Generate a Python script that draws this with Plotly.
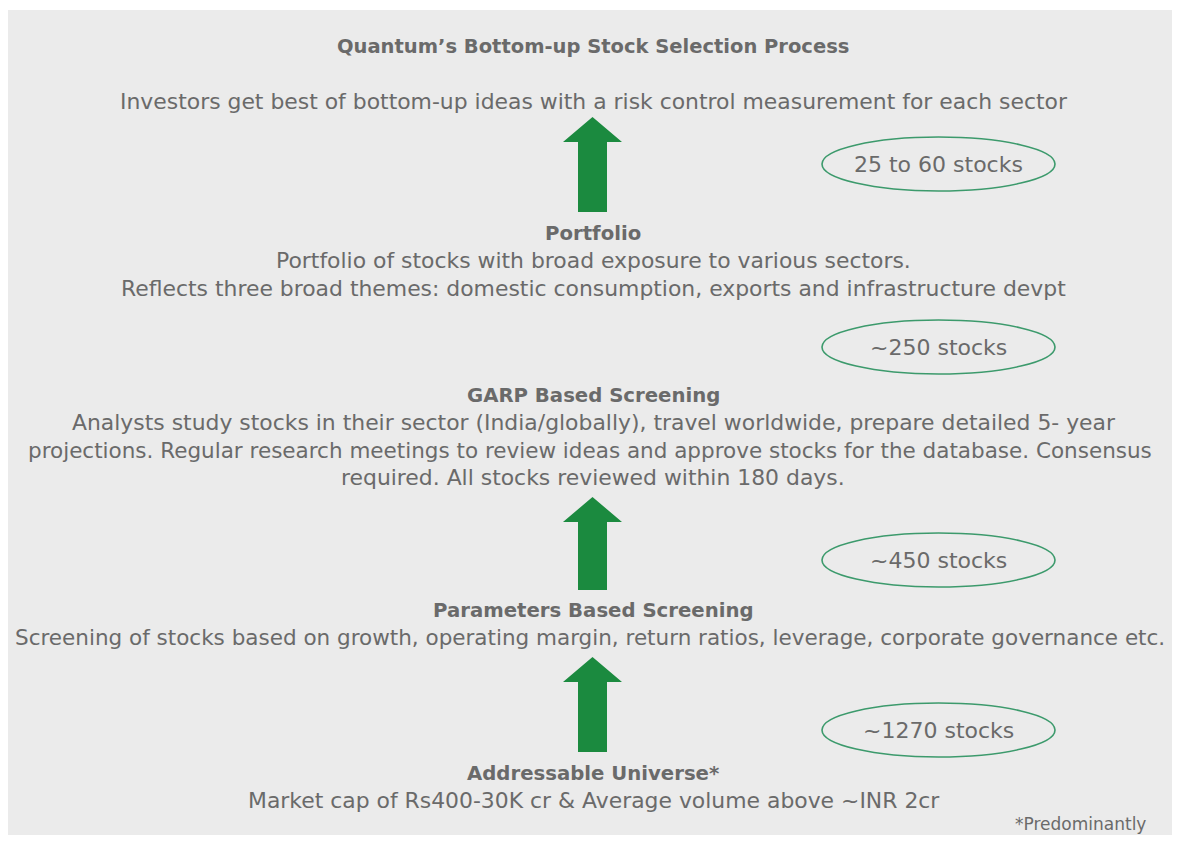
"""Quantum's bottom-up stock selection process - diagram"""

import plotly.graph_objects as go

W, H = 1180, 843
PAD = 8  # page body margin around the plot div

TITLE = "Quantum’s Bottom-up Stock Selection Process"
TOP_LINE = "Investors get best of bottom-up ideas with a risk control measurement for each sector"

# stages, from top to bottom
stage_heads = ['Portfolio', 'GARP Based Screening',
               'Parameters Based Screening', 'Addressable Universe*']
stage_lines = [
    ['Portfolio of stocks with broad exposure to various sectors.',
     'Reflects three broad themes: domestic consumption, exports and infrastructure devpt'],
    ['Analysts study stocks in their sector (India/globally), travel worldwide, prepare detailed 5- year',
     'projections. Regular research meetings to review ideas and approve stocks for the database. Consensus',
     'required. All stocks reviewed within 180 days.'],
    ['Screening of stocks based on growth, operating margin, return ratios, leverage, corporate governance etc.'],
    ['Market cap of Rs400-30K cr & Average volume above ~INR 2cr'],
]
stock_counts = ['25 to 60 stocks', '~250 stocks', '~450 stocks', '~1270 stocks']
FOOTNOTE = '*Predominantly'

# layout (window pixel positions, y measured from top)
head_y = [233, 395, 610, 773]
ellipse_y = [164, 347, 560, 730]
arrows = [(117, 142, 212), (497, 522, 590), (657, 682, 752)]  # tip, head base, bottom

TEXT = '#6a6a6a'
GREEN = '#1b8a3f'
RING = '#3c9a6c'
FONT = 'DejaVu Sans'
LINE_GAP = 27.5
BODY = 21.9

fig = go.Figure()

# background panel
fig.add_shape(type='rect', x0=7, x1=1177, y0=10, y1=841,
              line=dict(width=0), fillcolor='#ebebeb', layer='below')


def text(x, y, s, size=BODY, bold=False, xanchor='center'):
    fig.add_annotation(x=x, y=y, text=f'<b>{s}</b>' if bold else s,
                       showarrow=False, xanchor=xanchor, yanchor='middle',
                       font=dict(family=FONT, size=size, color=TEXT))


text(593, 46, TITLE, size=19.5, bold=True)
text(593, 101, TOP_LINE)

for head, lines, y in zip(stage_heads, stage_lines, head_y):
    text(593, y, head, size=19.7, bold=True)
    for i, ln in enumerate(lines):
        # the longest line has to stay inside the page width
        if len(ln) > 100:
            text(590, y + LINE_GAP * (i + 1), ln, size=21.5)
        else:
            text(593, y + LINE_GAP * (i + 1), ln)

for label, y in zip(stock_counts, ellipse_y):
    fig.add_shape(type='circle', x0=822, x1=1055, y0=y - 27, y1=y + 27,
                  line=dict(color=RING, width=1.6))
    text(938, y, label, size=22)

cx, hw, sw = 592.5, 29.5, 14.5
for tip, base, bot in arrows:
    path = (f'M {cx} {tip} L {cx + hw} {base} L {cx + sw} {base} '
            f'L {cx + sw} {bot} L {cx - sw} {bot} L {cx - sw} {base} '
            f'L {cx - hw} {base} Z')
    fig.add_shape(type='path', path=path, line=dict(width=0), fillcolor=GREEN)

text(1148, 824, FOOTNOTE, size=17, xanchor='right')

fig.update_layout(
    width=W - 2 * PAD, height=H - 2 * PAD,
    margin=dict(l=0, r=0, t=0, b=0),
    paper_bgcolor='white', plot_bgcolor='white',
    xaxis=dict(range=[PAD, W - PAD], visible=False, fixedrange=True),
    yaxis=dict(range=[H - PAD, PAD], visible=False, fixedrange=True),
    showlegend=False,
)

fig.write_html('out.html')
